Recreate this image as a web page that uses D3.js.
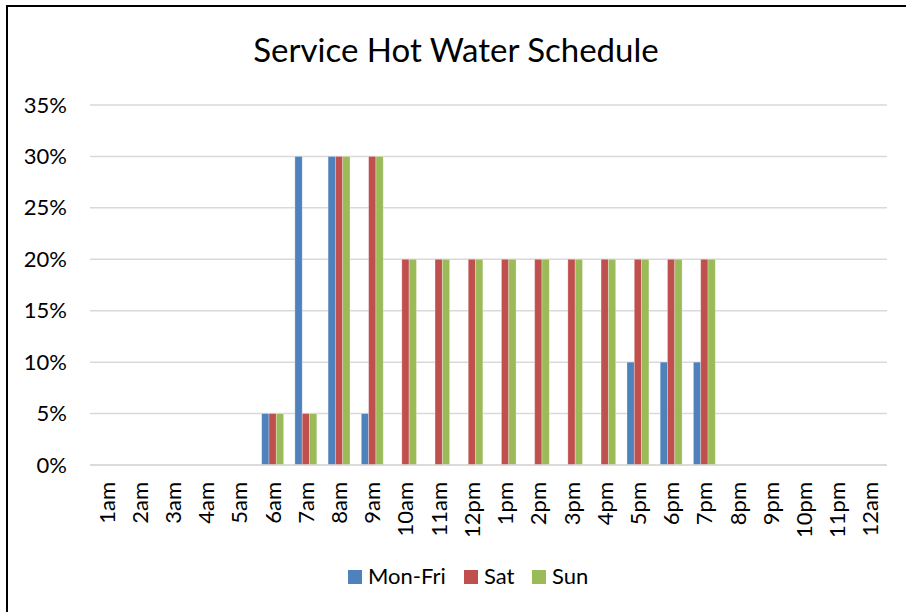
<!DOCTYPE html>
<html>
<head>
<meta charset="utf-8">
<script src="https://cdn.jsdelivr.net/npm/d3@7"></script>
<style>
  body { margin: 0; background: #fff; }
  svg { display: block; font-family: Lato, "Open Sans", sans-serif; }
</style>
</head>
<body>
<svg></svg>
<script>
let hours = ['1am','2am','3am','4am','5am','6am','7am','8am','9am','10am','11am','12pm',
             '1pm','2pm','3pm','4pm','5pm','6pm','7pm','8pm','9pm','10pm','11pm','12am']
let monFri = [0,0,0,0,0,5,30,30,5,0,0,0,0,0,0,0,10,10,10,0,0,0,0,0]
let sat    = [0,0,0,0,0,5,5,30,30,20,20,20,20,20,20,20,20,20,20,0,0,0,0,0]
let sun    = [0,0,0,0,0,5,5,30,30,20,20,20,20,20,20,20,20,20,20,0,0,0,0,0]
let seriesNames = ['Mon-Fri', 'Sat', 'Sun']
let yTicks = [0, 5, 10, 15, 20, 25, 30, 35]

let colors = ['#4F81BD', '#C0504D', '#9BBB59']
let width = 906
let height = 612
let plot = {left: 90, right: 887, top: 105, bottom: 465}
let tickFont = 22

let svg = d3.select('svg').attr('width', width).attr('height', height)

// chart frame (runs off the bottom/right like the original)
svg.append('rect')
    .attr('x', 7).attr('y', 6)
    .attr('width', 910).attr('height', 620)
    .attr('fill', 'none')
    .attr('stroke', '#000')
    .attr('stroke-width', 2)

svg.append('text')
    .attr('x', 456).attr('y', 62)
    .attr('text-anchor', 'middle')
    .attr('font-size', 33)
    .attr('fill', '#000')
    .text('Service Hot Water Schedule')

let xScale = d3.scaleBand()
    .domain(hours)
    .range([plot.left, plot.right])
    .paddingInner(0.34)
    .paddingOuter(0.17)

let xSub = d3.scaleBand()
    .domain(seriesNames)
    .range([0, xScale.bandwidth()])

let yScale = d3.scaleLinear()
    .domain([0, 35])
    .range([plot.bottom, plot.top])

// gridlines
svg.append('g')
    .selectAll('line')
    .data(yTicks)
    .enter()
    .append('line')
    .attr('x1', plot.left).attr('x2', plot.right)
    .attr('y1', d => yScale(d)).attr('y2', d => yScale(d))
    .attr('stroke', '#D9D9D9')
    .attr('stroke-width', 1.5)

// y axis labels
let yAxis = d3.axisLeft(yScale)
    .tickValues(yTicks)
    .tickFormat(d => d + '%')
    .tickSize(0)
    .tickPadding(0)

svg.append('g')
    .attr('id', 'y-axis')
    .attr('transform', 'translate(' + 67 + ', 0)')
    .call(yAxis)
    .call(g => g.select('.domain').remove())
    .selectAll('text')
    .attr('font-size', tickFont)
    .attr('font-family', 'Lato, "Open Sans", sans-serif')
    .attr('fill', '#000')

// bars
let rows = hours.map((h, i) => ({hour: h, vals: [monFri[i], sat[i], sun[i]]}))

let groups = svg.append('g')
    .selectAll('g')
    .data(rows)
    .enter()
    .append('g')
    .attr('transform', d => 'translate(' + xScale(d.hour) + ',0)')

groups.selectAll('rect')
    .data(d => d.vals.map((v, k) => ({name: seriesNames[k], value: v, k: k})))
    .enter()
    .filter(d => d.value > 0)
    .append('rect')
    .attr('x', d => xSub(d.name))
    .attr('width', xSub.bandwidth())
    .attr('y', d => yScale(d.value))
    .attr('height', d => yScale(0) - yScale(d.value))
    .attr('fill', d => colors[d.k])
    .attr('stroke', '#fff')
    .attr('stroke-opacity', 0.35)
    .attr('stroke-width', 0.8)

// x axis line + labels
svg.append('line')
    .attr('x1', plot.left).attr('x2', plot.right)
    .attr('y1', plot.bottom).attr('y2', plot.bottom)
    .attr('stroke', '#D9D9D9')
    .attr('stroke-width', 1.5)

svg.append('g')
    .selectAll('text')
    .data(hours)
    .enter()
    .append('text')
    .attr('transform', d => 'translate(' + (xScale(d) + xScale.bandwidth() / 2 + 8) + ',482) rotate(-90)')
    .attr('text-anchor', 'end')
    .attr('font-size', tickFont)
    .attr('fill', '#000')
    .text(d => d)

// legend
let legendX = [348, 464, 532]
let legend = svg.append('g')
    .selectAll('g')
    .data(seriesNames)
    .enter()
    .append('g')
    .attr('transform', (d, i) => 'translate(' + legendX[i] + ',570)')

legend.append('rect')
    .attr('width', 14).attr('height', 14)
    .attr('fill', (d, i) => colors[i])

legend.append('text')
    .attr('x', 20).attr('y', 14)
    .attr('font-size', tickFont)
    .attr('fill', '#000')
    .text(d => d)
</script>
</body>
</html>
